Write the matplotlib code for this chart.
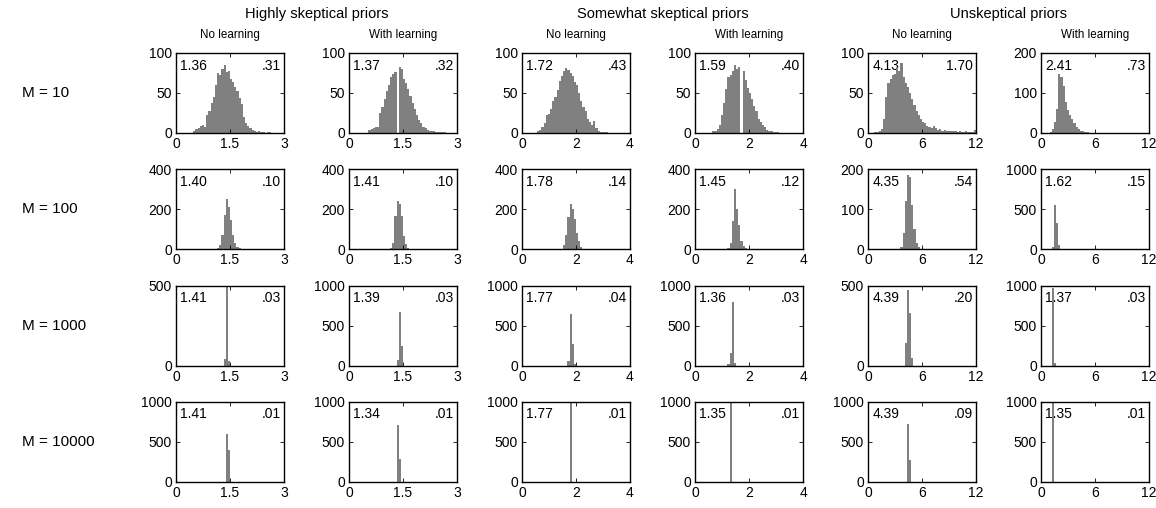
import numpy as np
import matplotlib.pyplot as plt
from matplotlib import font_manager

plt.rcParams['font.family'] = ['Liberation Sans', 'DejaVu Sans']

# headings use the condensed face when it is available
installed = {f.name for f in font_manager.fontManager.ttflist}
head_font = ['Liberation Sans Narrow'] if 'Liberation Sans Narrow' in installed else ['Liberation Sans']
head_scale = 1.0 if 'Liberation Sans Narrow' in installed else 0.88

N_BINS = 50

groups = ["Highly skeptical priors", "Somewhat skeptical priors", "Unskeptical priors"]
learning = ["No learning", "With learning"]
row_labels = ["M = 10", "M = 100", "M = 1000", "M = 10000"]

x_max = [3, 3, 4, 4, 12, 12]
x_ticklabels = [["0", "1.5", "3"], ["0", "1.5", "3"], ["0", "2", "4"],
                ["0", "2", "4"], ["0", "6", "12"], ["0", "6", "12"]]
y_max = [[100, 100, 100, 100, 100, 200],
         [400, 400, 400, 400, 200, 1000],
         [500, 1000, 1000, 1000, 500, 1000],
         [1000, 1000, 1000, 1000, 1000, 1000]]

means = [["1.36", "1.37", "1.72", "1.59", "4.13", "2.41"],
         ["1.40", "1.41", "1.78", "1.45", "4.35", "1.62"],
         ["1.41", "1.39", "1.77", "1.36", "4.39", "1.37"],
         ["1.41", "1.34", "1.77", "1.35", "4.39", "1.35"]]
sds = [[".31", ".32", ".43", ".40", "1.70", ".73"],
       [".10", ".10", ".14", ".12", ".54", ".15"],
       [".03", ".03", ".04", ".03", ".20", ".03"],
       [".01", ".01", ".01", ".01", ".09", ".01"]]

# histogram counts per column, one entry per M: (first bin, counts from it)
highly_no = [
    (8, [3, 5, 6, 9, 10, 8, 22, 28, 38, 45, 60, 75, 72, 80, 85, 76, 78, 68, 64,
         58, 52, 44, 36, 20, 12, 9, 6, 4, 3, 1, 2, 1, 1, 0, 1, 1]),
    (19, [5, 22, 72, 172, 250, 210, 148, 70, 30, 12, 5, 2]),
    (22, [40, 900, 30]),
    (23, [600, 395]),
]
highly_with = [
    (9, [4, 5, 6, 7, 8, 25, 33, 42, 52, 60, 70, 74, 76, 0, 83, 80, 68, 62, 55,
         46, 38, 30, 22, 16, 12, 8, 6, 4, 3, 2, 2, 1, 1, 1, 1, 1]),
    (18, [3, 8, 30, 165, 240, 225, 165, 65, 25, 8, 3]),
    (22, [70, 670, 245]),
    (22, [707, 290]),
]
somewhat_no = [
    (7, [2, 4, 8, 12, 22, 24, 30, 40, 45, 54, 65, 71, 77, 81, 79, 75, 71, 64,
         60, 50, 40, 33, 27, 18, 14, 10, 15, 6, 2, 1, 1, 1, 1]),
    (18, [4, 20, 70, 160, 225, 200, 150, 80, 40, 12, 4]),
    (21, [60, 650, 270, 20]),
    (22, [1000]),
]
somewhat_with = [
    (8, [2, 3, 5, 10, 22, 38, 55, 70, 72, 78, 85, 80, 82, 0, 78, 66, 56, 50,
         42, 34, 28, 18, 14, 10, 7, 4, 3, 2, 1, 1, 1]),
    (15, [5, 30, 140, 300, 200, 120, 40, 15, 5]),
    (15, [20, 160, 790, 30]),
    (16, [1000]),
]
unskeptical_no = [
    (3, [1, 1, 2, 5, 18, 45, 62, 68, 72, 74, 82, 78, 88, 70, 62, 58, 50, 42,
         35, 28, 22, 18, 14, 12, 9, 7, 6, 9, 6, 4, 5, 3, 4, 2, 3, 2, 2, 3, 1,
         2, 1, 1, 2, 1, 1, 1, 4]),
    (15, [5, 40, 120, 185, 180, 110, 50, 15, 5]),
    (17, [140, 470, 330, 50]),
    (18, [720, 275]),
]
unskeptical_with = [
    (4, [3, 10, 28, 60, 148, 140, 118, 78, 58, 45, 34, 26, 16, 10, 6, 4, 2, 2,
         1, 1, 1]),
    (5, [30, 560, 330, 50, 10, 5, 3, 2, 1, 1]),
    (5, [965, 35]),
    (5, [1000]),
]
columns = [highly_no, highly_with, somewhat_no, somewhat_with,
           unskeptical_no, unskeptical_with]

W, H = 1156, 508
fig = plt.figure(figsize=(W / 100, H / 100), dpi=100)

ax_w, ax_h = 108, 80
col_left = [176 + 173 * c for c in range(6)]
row_top = [53 + 116.3 * r for r in range(4)]

for r in range(4):
    for c in range(6):
        left, top = col_left[c], row_top[r]
        ax = fig.add_axes([left / W, 1 - (top + ax_h) / H, ax_w / W, ax_h / H])

        start, vals = columns[c][r]
        counts = np.zeros(N_BINS)
        counts[start:start + len(vals)] = vals
        edges = np.linspace(0, x_max[c], N_BINS + 1)
        ax.bar(edges[:-1], counts, width=edges[1] - edges[0], align="edge",
               color="#808080", edgecolor="none", linewidth=0)

        ax.set_xlim(0, x_max[c])
        ax.set_ylim(0, y_max[r][c])
        ax.set_xticks([0, x_max[c] / 2, x_max[c]])
        ax.set_xticklabels(x_ticklabels[c])
        ym = y_max[r][c]
        yt = [0, ym] if ym == 500 else [0, ym // 2, ym]
        ax.set_yticks(yt)
        ax.set_yticklabels([str(v) for v in yt])
        ax.tick_params(direction="in", length=3, width=0.6, labelsize=10,
                       top=True, right=True, pad=3)
        for sp in ax.spines.values():
            sp.set_linewidth(1.0)

        ax.text(0.04, 0.93, means[r][c], transform=ax.transAxes, fontsize=10,
                ha="left", va="top", zorder=0.5)
        ax.text(0.97, 0.93, sds[r][c], transform=ax.transAxes, fontsize=10,
                ha="right", va="top", zorder=0.5)

        if r == 0:
            ax.text(0.5, 1.0 + 18 / ax_h, learning[c % 2], transform=ax.transAxes,
                    fontsize=9.5 * head_scale, family=head_font,
                    ha="center", va="center")

for g in range(3):
    xc = (col_left[2 * g] + col_left[2 * g + 1] + ax_w) / 2
    fig.text(xc / W, 1 - 14 / H, groups[g], fontsize=12 * head_scale,
             family=head_font, ha="center", va="center")

for r in range(4):
    fig.text(22 / W, 1 - (row_top[r] + ax_h / 2) / H, row_labels[r],
             fontsize=11, ha="left", va="center")

fig.savefig("out.png", dpi=100)
